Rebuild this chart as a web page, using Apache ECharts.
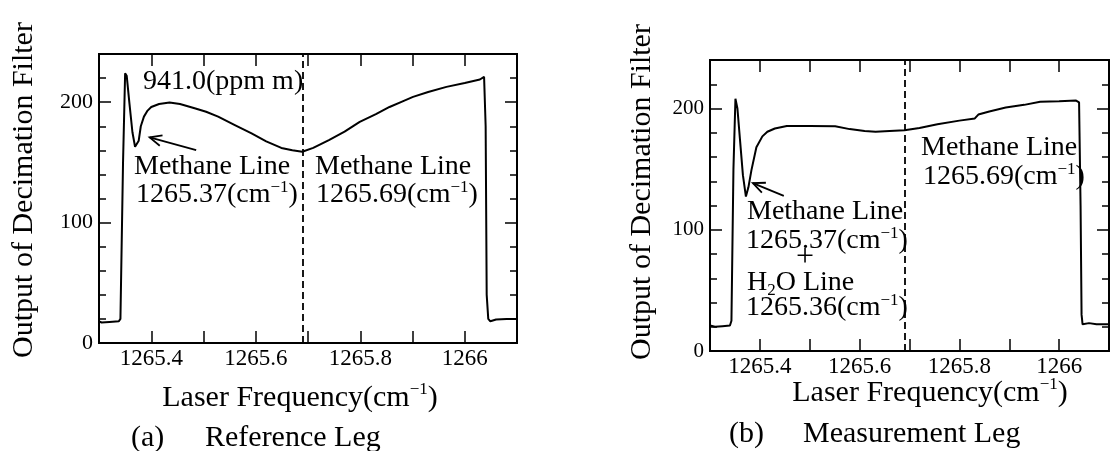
<!DOCTYPE html>
<html><head><meta charset="utf-8">
<script src="https://cdn.jsdelivr.net/npm/echarts@6/dist/echarts.min.js"></script>
<style>html,body{margin:0;padding:0;background:#fff}#c{width:1112px;height:451px}</style>
</head><body><div id="c"></div>
<script>
// ---- data ----
const refFreq = [1265.300,1265.305,1265.320,1265.338,1265.341,1265.346,1265.350,1265.353,1265.358,1265.364,1265.369,1265.372,1265.376,1265.380,1265.386,1265.393,1265.400,1265.415,1265.435,1265.455,1265.483,1265.505,1265.528,1265.560,1265.592,1265.620,1265.649,1265.670,1265.689,1265.710,1265.740,1265.770,1265.799,1265.830,1265.856,1265.880,1265.901,1265.930,1265.965,1266.000,1266.029,1266.037,1266.040,1266.042,1266.045,1266.049,1266.060,1266.080,1266.100];
const refValue = [18,17,17.5,18,20,150,224,222,200,175,163,162,168,180,188,193,196,198.5,199.7,198.5,195,192,188,181,174,167.5,162,160,158.8,162,168.5,175.5,183.7,190,196,200.5,204.4,208.5,212.7,216,218.8,221,180,40,20,18,19.5,20,20];
const measFreq = [1265.300,1265.310,1265.325,1265.340,1265.343,1265.347,1265.351,1265.355,1265.360,1265.366,1265.372,1265.377,1265.383,1265.393,1265.405,1265.415,1265.430,1265.454,1265.500,1265.551,1265.580,1265.610,1265.632,1265.660,1265.690,1265.720,1265.756,1265.800,1265.831,1265.838,1265.860,1265.893,1265.930,1265.962,1266.000,1266.034,1266.040,1266.043,1266.045,1266.047,1266.060,1266.075,1266.100];
const measValue = [21,20,20.5,21,25,150,208,200,175,145,127.4,135,149,168,177,180.8,183.5,185.5,185.5,185.3,183,181.5,180.8,181.5,182,184,187,190,191.8,195,197.5,200.8,203,205.5,206,206.5,205,120,30,22,23,22,22];
const methaneLineFreq = 1265.69;
const xTickValues = [1265.4, 1265.6, 1265.8, 1266.0];
const xTickTexts = ['1265.4', '1265.6', '1265.8', '1266'];
const yTickValues = [0, 100, 200];
const yTickTexts = ['0', '100', '200'];
const xMin = 1265.3, xMax = 1266.1, xStep = 0.1;
const yMin = 0, yMax = 240, yMajorStep = 100, yMinorStep = 20;

const FONT = 'Liberation Serif';
const chart = echarts.init(document.getElementById('c'), null, {renderer: 'canvas'});

function xFmt(v) {
  const i = xTickValues.findIndex(t => Math.abs(t - v) < 1e-6);
  return i >= 0 ? xTickTexts[i] : '';
}
function yFmt(v) {
  const i = yTickValues.findIndex(t => Math.abs(t - v) < 1e-6);
  return i >= 0 ? yTickTexts[i] : '';
}
function xAxisDef(grid, pos, showLabel) {
  return {
    type: 'value', gridIndex: grid, position: pos, min: xMin, max: xMax, interval: xStep,
    axisLine: {show: true, onZero: false, lineStyle: {color: '#000', width: 2}},
    axisTick: {show: true, inside: true, length: 12, lineStyle: {color: '#000', width: 1.5}},
    axisLabel: {show: showLabel, interval: 0, formatter: xFmt, color: '#000', fontFamily: FONT, fontSize: 23, margin: 4,
      showMinLabel: true, showMaxLabel: true},
    splitLine: {show: false}
  };
}
function yAxisDef(grid, pos, step, tickLen, showLabel, fs, margin) {
  return {
    type: 'value', gridIndex: grid, position: pos, min: yMin, max: yMax, interval: step,
    axisLine: {show: true, onZero: false, lineStyle: {color: '#000', width: 2}},
    axisTick: {show: true, inside: true, length: tickLen, lineStyle: {color: '#000', width: 1.5}},
    axisLabel: {show: showLabel, interval: 0, formatter: yFmt, color: '#000', fontFamily: FONT, fontSize: fs || 20, margin: margin || 6},
    splitLine: {show: false}
  };
}
function lineSeries(grid, fr, vals) {
  return {
    type: 'line', xAxisIndex: grid * 2, yAxisIndex: grid * 4, showSymbol: false, symbol: 'none',
    data: fr.map((f, i) => [f, vals[i]]),
    lineStyle: {color: '#000', width: 2}, silent: true, animation: false,
    markLine: {silent: true, symbol: 'none', label: {show: false}, animation: false,
      lineStyle: {color: '#000', width: 1.8, type: [7, 4]},
      data: [{xAxis: methaneLineFreq}]}
  };
}

chart.setOption({
  animation: false,
  backgroundColor: '#fff',
  textStyle: {fontFamily: FONT},
  grid: [
    {left: 99, top: 54, width: 418, height: 289},
    {left: 710, top: 60, width: 413, height: 291}
  ],
  xAxis: [xAxisDef(0, 'bottom', true), xAxisDef(0, 'top', false), xAxisDef(1, 'bottom', true), xAxisDef(1, 'top', false)],
  yAxis: [
    yAxisDef(0, 'left', yMajorStep, 12, true, 22, 6), yAxisDef(0, 'left', yMinorStep, 7, false),
    yAxisDef(0, 'right', yMajorStep, 12, false), yAxisDef(0, 'right', yMinorStep, 7, false),
    yAxisDef(1, 'left', yMajorStep, 12, true, 21, 6), yAxisDef(1, 'left', yMinorStep, 7, false),
    yAxisDef(1, 'right', yMajorStep, 12, false), yAxisDef(1, 'right', yMinorStep, 7, false)
  ],
  series: [lineSeries(0, refFreq, refValue), lineSeries(1, measFreq, measValue)]
});

// ---- annotations ----
const supRich = {
  s: {fontSize: 17, fontFamily: FONT, verticalAlign: 'top', lineHeight: 16, fill: '#000', color: '#000'},
  b: {fontSize: 17, fontFamily: FONT, verticalAlign: 'bottom', lineHeight: 14, fill: '#000', color: '#000'}
};
function txt(x, y, text, fs, align, rot) {
  return {
    type: 'text', x: x, y: y, rotation: rot || 0, silent: true,
    style: {text: text, fontSize: fs, fontFamily: FONT, fill: '#000', lineHeight: fs + 4,
      align: align || 'left', verticalAlign: 'middle', textAlign: align || 'left', textVerticalAlign: 'middle',
      rich: supRich}
  };
}
function arrow(gridIndex, tail, tip) {
  const p0 = chart.convertToPixel({gridIndex: gridIndex}, tail);
  const p1 = chart.convertToPixel({gridIndex: gridIndex}, tip);
  const ang = Math.atan2(p0[1] - p1[1], p0[0] - p1[0]);
  const L = 13, A = 0.42;
  const a1 = [p1[0] + L * Math.cos(ang + A), p1[1] + L * Math.sin(ang + A)];
  const a2 = [p1[0] + L * Math.cos(ang - A), p1[1] + L * Math.sin(ang - A)];
  return [
    {type: 'line', silent: true, shape: {x1: p0[0], y1: p0[1], x2: p1[0], y2: p1[1]}, style: {stroke: '#000', lineWidth: 1.8}},
    {type: 'polyline', silent: true, shape: {points: [a1, p1, a2]}, style: {stroke: '#000', lineWidth: 1.8, fill: null}}
  ];
}
const arrowRefTail = [1265.486, 160.2], arrowRefTip = [1265.397, 170.7];
const arrowMeasTail = [1265.448, 128], arrowMeasTip = [1265.386, 138.4];

const g = [];
// left panel
g.push(txt(24, 190, 'Output of Decimation Filter', 30, 'center', Math.PI / 2));
g.push(txt(143, 82, '941.0(ppm m)', 28));
g.push(txt(134, 167, 'Methane Line', 28));
g.push(txt(136, 195, '1265.37(cm{s|−1})', 28));
g.push(txt(315, 167, 'Methane Line', 28));
g.push(txt(316, 195, '1265.69(cm{s|−1})', 28));
g.push(txt(300, 398, 'Laser Frequency(cm{s|−1})', 30, 'center'));
g.push(txt(131, 438, '(a)', 30));
g.push(txt(205, 438, 'Reference Leg', 30));
// right panel
g.push(txt(642, 192, 'Output of Decimation Filter', 30, 'center', Math.PI / 2));
g.push(txt(747, 212, 'Methane Line', 28));
g.push(txt(746, 241, '1265.37(cm{s|−1})', 28));
g.push(txt(805, 258, '+', 32, 'center'));
g.push(txt(747, 283, 'H{b|2}O Line', 28));
g.push(txt(746, 308, '1265.36(cm{s|−1})', 28));
g.push(txt(921, 148, 'Methane Line', 28));
g.push(txt(923, 177, '1265.69(cm{s|−1})', 28));
g.push(txt(930, 393, 'Laser Frequency(cm{s|−1})', 30, 'center'));
g.push(txt(729, 434, '(b)', 30));
g.push(txt(803, 434, 'Measurement Leg', 30));
arrow(0, arrowRefTail, arrowRefTip).forEach(e => g.push(e));
arrow(1, arrowMeasTail, arrowMeasTip).forEach(e => g.push(e));

chart.setOption({graphic: {elements: g}});
</script>
</body></html>
